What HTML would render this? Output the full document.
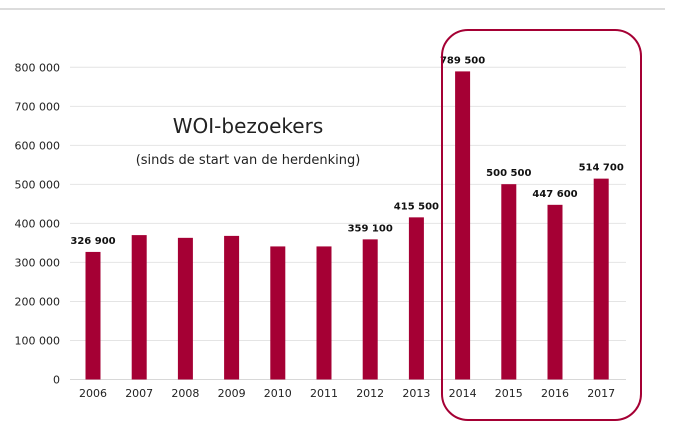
<!DOCTYPE html>
<html><head><meta charset="utf-8"><style>
body{margin:0;background:#fff;font-family:"DejaVu Sans","Liberation Sans",sans-serif}
svg{display:block}
</style></head><body>
<svg width="677" height="432" viewBox="0 0 677 432">
<line x1="0" y1="9" x2="665" y2="9" stroke="#d0d0d0" stroke-width="1.5"/>
<g id="grid"></g><g id="yticks"></g><g id="bars"></g><g id="xlabels"></g><g id="vlabels"></g>
<text x="248" y="133" font-size="20" fill="#222" text-anchor="middle">WOI-bezoekers</text>
<text x="248" y="164" font-size="13" fill="#222" text-anchor="middle">(sinds de start van de herdenking)</text>
<rect x="442" y="30" width="199" height="390" rx="26" ry="26" fill="none" stroke="#a50034" stroke-width="2"/>
</svg>
<script>
const categories=["2006","2007","2008","2009","2010","2011","2012","2013","2014","2015","2016","2017"];
const values=[326900,370000,363000,368000,341000,341000,359100,415500,789500,500500,447600,514700];
const valueLabels=["326 900","","","","","","359 100","415 500","789 500","500 500","447 600","514 700"];
const yTicks=[0,100000,200000,300000,400000,500000,600000,700000,800000];
const yTickLabels=["0","100 000","200 000","300 000","400 000","500 000","600 000","700 000","800 000"];
const NS="http://www.w3.org/2000/svg";
const y0=379.5,y1=67.3,yMax=800000;
function yS(v){return y0-(v/yMax)*(y0-y1);}
function xS(i){return 93+i*46.2;}
function mk(t,a,p){const e=document.createElementNS(NS,t);for(const k in a)e.setAttribute(k,a[k]);document.getElementById(p).appendChild(e);return e;}
yTicks.forEach((v,i)=>{
 const l=mk("line",{x1:70,x2:626,y1:yS(v),y2:yS(v),stroke:i==0?"#d8d8d8":"#e4e4e4","stroke-width":1},"grid");
 
 
 const t=mk("text",{x:60,y:yS(v)+4,"font-size":11,fill:"#222","text-anchor":"end"},"yticks");
 t.textContent=yTickLabels[i];
 
 
});
categories.forEach((c,i)=>{
 const r=mk("rect",{x:xS(i)-7.5,y:yS(values[i]),width:15,height:y0-yS(values[i]),fill:"#a50034"},"bars");
 
 
 const t=mk("text",{x:xS(i),y:397,"font-size":11,fill:"#222","text-anchor":"middle"},"xlabels");
 t.textContent=c;
 
 
 if(valueLabels[i]){
  const v=mk("text",{x:xS(i),y:yS(values[i])-8,"font-size":10,"font-weight":"bold",fill:"#111","text-anchor":"middle"},"vlabels");
  v.textContent=valueLabels[i];
  
  
 }
});
</script>
</body></html>
